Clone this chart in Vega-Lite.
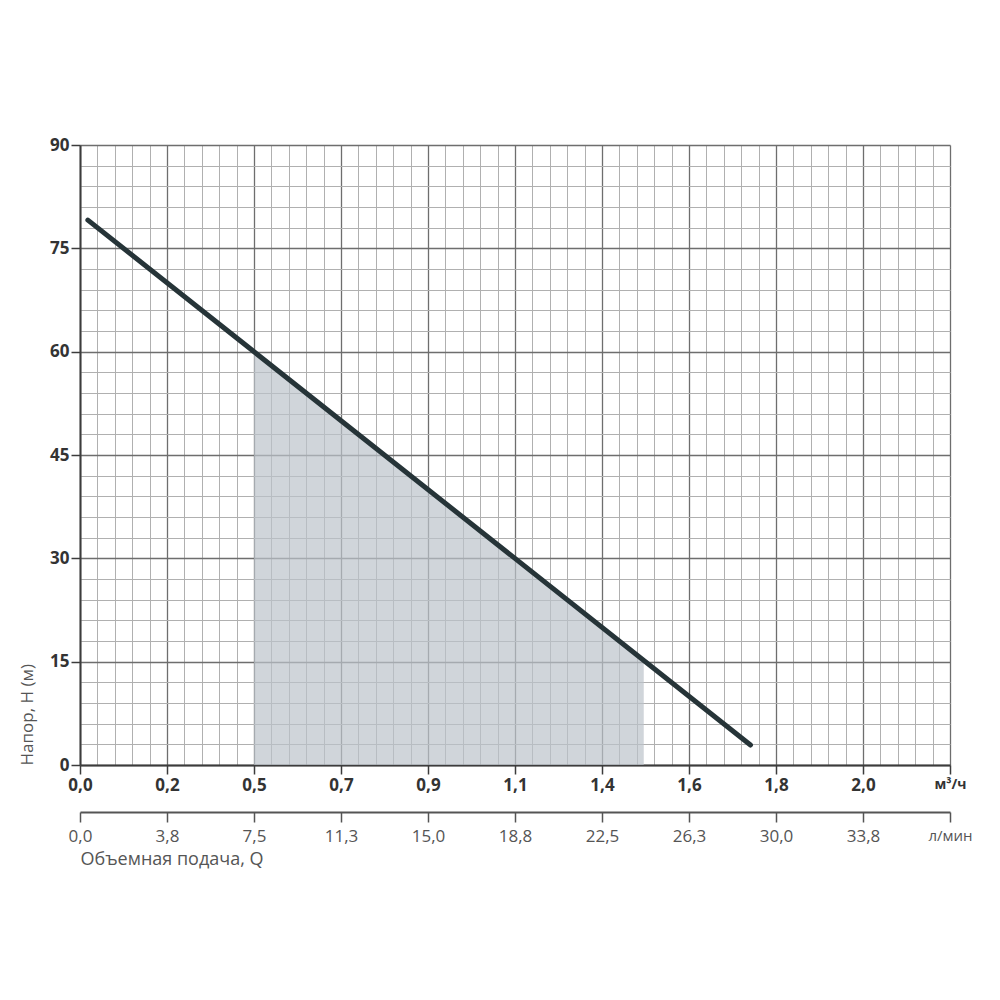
{
  "$schema": "https://vega.github.io/schema/vega-lite/v6.json",
  "width": 870,
  "height": 620,
  "autosize": {"type": "none"},
  "padding": {"left": 80, "top": 145, "right": 50, "bottom": 235},
  "background": "white",
  "view": {"stroke": null},
  "datasets": {
    "shade": [{"q": 7.5, "h": 60}, {"q": 24.3, "h": 15.2}],
    "curve": [{"q": 0.34, "h": 79.1}, {"q": 28.9, "h": 2.9}]
  },
  "resolve": {"axis": {"x": "independent"}},
  "layer": [
    {
      "data": {"name": "shade"},
      "mark": {"type": "area", "color": "#bcc3cb", "opacity": 0.7},
      "encoding": {
        "x": {
          "field": "q", "type": "quantitative",
          "scale": {"domain": [0, 37.5], "nice": false, "zero": false},
          "axis": {
            "orient": "bottom",
            "title": null,
            "tickCount": 51,
            "values": [0,0.75,1.5,2.25,3,3.75,4.5,5.25,6,6.75,7.5,8.25,9,9.75,10.5,11.25,12,12.75,13.5,14.25,15,15.75,16.5,17.25,18,18.75,19.5,20.25,21,21.75,22.5,23.25,24,24.75,25.5,26.25,27,27.75,28.5,29.25,30,30.75,31.5,32.25,33,33.75,34.5,35.25,36,36.75,37.5],
            "grid": true,
            "gridColor": {"condition": {"test": "indexof([0,3.75,7.5,11.25,15,18.75,22.5,26.25,30,33.75,37.5], datum.value) >= 0", "value": "#6e6e6e"}, "value": "#b0b0b0"},
            "gridWidth": {"condition": {"test": "indexof([0,3.75,7.5,11.25,15,18.75,22.5,26.25,30,33.75,37.5], datum.value) >= 0", "value": 1.3}, "value": 1},
            "ticks": true,
            "tickSize": 9,
            "tickColor": "#3c3c3c",
            "tickWidth": 1.5,
            "tickOpacity": {"condition": {"test": "indexof([0,3.75,7.5,11.25,15,18.75,22.5,26.25,30,33.75,37.5], datum.value) >= 0", "value": 1}, "value": 0},
            "domainColor": "#3c3c3c",
            "domainWidth": 2,
            "labelExpr": "indexof([0,3.75,7.5,11.25,15,18.75,22.5,26.25,30,33.75,37.5], datum.value) >= 0 ? ['0,0','0,2','0,5','0,7','0,9','1,1','1,4','1,6','1,8','2,0','м³/ч'][round(datum.value/3.75)] : ''",
            "labelFont": "Open Sans",
            "labelFontWeight": "bold",
            "labelFontSize": {"condition": {"test": "datum.value === 37.5", "value": 14}, "value": 17},
            "labelColor": "#333333",
            "labelPadding": 3,
            "labelOverlap": false,
            "labelFlush": false,
            "labelBound": false
          }
        },
        "y": {
          "field": "h", "type": "quantitative",
          "scale": {"domain": [0, 90], "nice": false},
          "axis": {
            "title": "Напор, H (м)",
            "titleAnchor": "start",
            "titleFont": "Open Sans",
            "titleFontWeight": "normal",
            "titleFontSize": 17,
            "titleColor": "#555555",
            "titlePadding": 13,
            "tickCount": 31,
            "values": [0,3,6,9,12,15,18,21,24,27,30,33,36,39,42,45,48,51,54,57,60,63,66,69,72,75,78,81,84,87,90],
            "grid": true,
            "gridColor": {"condition": {"test": "indexof([0,15,30,45,60,75,90], datum.value) >= 0", "value": "#6e6e6e"}, "value": "#b0b0b0"},
            "gridWidth": {"condition": {"test": "indexof([0,15,30,45,60,75,90], datum.value) >= 0", "value": 1.3}, "value": 1},
            "tickSize": 9,
            "tickColor": "#3c3c3c",
            "tickWidth": 1.5,
            "tickOpacity": {"condition": {"test": "indexof([0,15,30,45,60,75,90], datum.value) >= 0", "value": 1}, "value": 0},
            "domainColor": "#3c3c3c",
            "domainWidth": 2,
            "labelExpr": "indexof([0,15,30,45,60,75,90], datum.value) >= 0 ? '' + datum.value : ''",
            "labelFont": "Open Sans",
            "labelFontWeight": "bold",
            "labelFontSize": 17,
            "labelColor": "#333333",
            "labelPadding": 2,
            "labelOverlap": false,
            "labelFlush": false,
            "labelBound": false
          }
        }
      }
    },
    {
      "data": {"name": "curve"},
      "mark": {"type": "line", "color": "#263438", "strokeWidth": 5, "strokeCap": "round"},
      "encoding": {
        "x": {
          "field": "q", "type": "quantitative",
          "axis": {
            "orient": "bottom",
            "offset": 47,
            "title": "Объемная подача, Q",
            "titleAnchor": "start",
            "titleAlign": "left",
            "titleFont": "Open Sans",
            "titleFontWeight": "normal",
            "titleFontSize": 18,
            "titleColor": "#555555",
            "titlePadding": 6,
            "tickCount": 11,
            "values": [0,3.75,7.5,11.25,15,18.75,22.5,26.25,30,33.75,37.5],
            "grid": false,
            "tickSize": 10,
            "tickColor": "#555555",
            "tickWidth": 1.5,
            "domainColor": "#555555",
            "domainWidth": 2,
            "labelExpr": "['0,0','3,8','7,5','11,3','15,0','18,8','22,5','26,3','30,0','33,8','л/мин'][round(datum.value/3.75)]",
            "labelFont": "Open Sans",
            "labelFontWeight": "normal",
            "labelFontSize": {"condition": {"test": "datum.value === 37.5", "value": 15}, "value": 17},
            "labelColor": "#555555",
            "labelPadding": 6,
            "labelOverlap": false,
            "labelFlush": false,
            "labelBound": false
          }
        },
        "y": {"field": "h", "type": "quantitative", "axis": {"tickCount": 31}}
      }
    }
  ]
}
